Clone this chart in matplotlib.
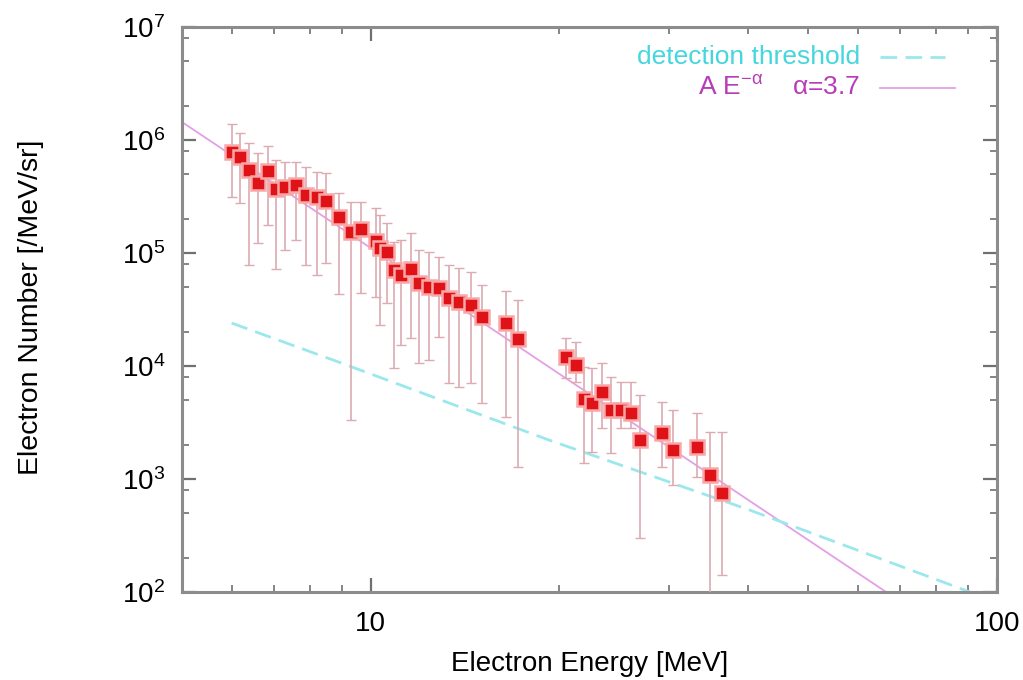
import matplotlib
matplotlib.use("Agg")
import matplotlib.pyplot as plt
from matplotlib.ticker import LogLocator, LogFormatterSciNotation, NullFormatter
import numpy as np

plt.rcParams["font.family"] = ["Liberation Sans", "DejaVu Sans"]
plt.rcParams["mathtext.fontset"] = "custom"
plt.rcParams["mathtext.rm"] = "Liberation Sans"
plt.rcParams["mathtext.it"] = "Liberation Sans"
plt.rcParams["mathtext.default"] = "regular"

# Electron spectrum [MeV, /MeV/sr] with asymmetric error bounds
energy = [6.01, 6.19, 6.40, 6.62, 6.87, 7.07, 7.31, 7.61, 7.90, 8.20, 8.50,
          8.92, 9.32, 9.67, 10.19, 10.37, 10.61, 10.88, 11.17, 11.59, 11.93,
          12.38, 12.85, 13.33, 13.83, 14.45, 15.05, 16.44, 17.19, 20.51,
          21.28, 21.92, 22.57, 23.42, 24.21, 25.12, 26.06, 26.94, 29.22,
          30.42, 33.23, 34.86, 36.44]
counts = [7.83e5, 7.07e5, 5.43e5, 4.16e5, 5.32e5, 3.68e5, 3.84e5, 4.00e5,
          3.26e5, 3.13e5, 2.89e5, 2.08e5, 1.53e5, 1.63e5, 1.28e5, 1.11e5,
          1.02e5, 7.07e4, 6.39e4, 7.22e4, 5.43e4, 5.00e4, 4.90e4, 4.00e4,
          3.68e4, 3.47e4, 2.71e4, 2.40e4, 1.73e4, 1.20e4, 1.02e4, 5.11e3,
          4.71e3, 5.89e3, 4.08e3, 4.08e3, 3.84e3, 2.21e3, 2.55e3, 1.81e3,
          1.92e3, 1.09e3, 7.52e2]
upper = [1.39e6, 1.15e6, 9.41e5, 7.67e5, 8.85e5, 6.65e5, 6.39e5, 6.39e5,
         5.77e5, 5.21e5, 5.11e5, 3.40e5, 2.83e5, 2.83e5, 2.50e5, 2.17e5,
         1.84e5, 1.25e5, 1.30e5, 1.50e5, 1.06e5, 1.02e5, 9.22e4, 7.83e4,
         7.37e4, 6.79e4, 5.21e4, 4.61e4, 3.84e4, 1.77e4, 1.63e4, 9.80e3,
         9.60e3, 1.06e4, 8.00e3, 7.22e3, 7.22e3, 5.54e3, 4.80e3, 4.08e3,
         3.84e3, 2.61e3, 2.61e3]
lower = [3.13e5, 2.77e5, 7.83e4, 1.23e5, 1.77e5, 7.22e4, 1.06e5, 1.30e5,
         7.83e4, 6.39e4, 8.15e4, 4.34e4, 3.33e3, 4.43e4, 4.08e4, 2.31e4,
         3.61e4, 9.60e3, 1.53e4, 1.77e4, 1.06e4, 1.13e4, 1.81e4, 7.07e3,
         6.52e3, 7.07e3, 4.71e3, 3.54e3, 1.28e3, 7.83e3, 7.22e3, 1.39e3,
         1.73e3, 2.83e3, 1.70e3, 2.83e3, 2.83e3, 3.00e2, 1.28e3, 8.85e2,
         1.04e3, 8.0e1, 1.41e2]

# Detection threshold curve
thr_energy = [6.0, 8.99, 19.27, 40.25, 90.5]
thr_counts = [2.4e4, 1.06e4, 2.21e3, 5.32e2, 1.0e2]

# Power-law fit A E^-alpha
fit_norm = 5.56e8
fit_alpha = 3.7
fit_range = [5.0, 100.0]

fig = plt.figure(figsize=(10.23, 6.8), dpi=100)
ax = fig.add_axes([182 / 1023, 88 / 680, 815 / 1023, 565 / 680])
ax.set_xscale("log")
ax.set_yscale("log")
ax.set_xlim(5, 100)
ax.set_ylim(1e2, 1e7)

e_arr = np.array(energy)
c_arr = np.array(counts)
yerr = [c_arr - np.array(lower), np.array(upper) - c_arr]

fit_e = np.array(fit_range)
ax.plot(fit_e, fit_norm * fit_e ** (-fit_alpha), color="#e3a0e6", lw=1.3, zorder=2)
ax.plot(thr_energy, thr_counts, color="#9be8ec", lw=2.0, ls=(0, (6, 3)), zorder=2)

ax.errorbar(e_arr, c_arr, yerr=yerr, fmt="none", ecolor="#dcaab0",
            elinewidth=1.2, capsize=3.5, capthick=1.0, zorder=3)
ax.plot(e_arr, c_arr, ls="none", marker="s", ms=9.5, color="#df1218",
        mec="#f8a8a8", mew=1.8, zorder=4)

# legend drawn as text + short line samples
ax.text(0.832, 0.947, "detection threshold", transform=ax.transAxes,
        ha="right", va="center", fontsize=19, color="#45d6de")
ax.plot([0.856, 0.936], [0.947, 0.947], transform=ax.transAxes,
        color="#9be8ec", lw=2.0, ls=(0, (6, 3)))
ax.text(0.832, 0.892, "A E$^{-α}$    α=3.7", transform=ax.transAxes,
        ha="right", va="center", fontsize=19, color="#b83cb8")
ax.plot([0.856, 0.948], [0.892, 0.892], transform=ax.transAxes,
        color="#e3a0e6", lw=1.3)

for s in ax.spines.values():
    s.set_color("#8c8c8c")
    s.set_linewidth(2.2)

ax.xaxis.set_major_locator(LogLocator(base=10, subs=(1.0,)))
ax.xaxis.set_minor_locator(LogLocator(base=10, subs=np.arange(2, 10)))
ax.xaxis.set_major_formatter(plt.FuncFormatter(lambda v, p: f"{v:g}"))
ax.xaxis.set_minor_formatter(NullFormatter())
ax.yaxis.set_major_locator(LogLocator(base=10, subs=(1.0,)))
ax.yaxis.set_minor_locator(LogLocator(base=10, subs=(2.0, 5.0, 8.0)))
ax.yaxis.set_major_formatter(LogFormatterSciNotation())
ax.yaxis.set_minor_formatter(NullFormatter())

ax.tick_params(which="both", direction="in", top=True, right=True,
               color="#707070", labelsize=20)
ax.tick_params(which="major", length=10, width=1.6)
ax.tick_params(which="minor", length=5, width=1.2)
ax.tick_params(axis="x", which="major", pad=14)
ax.tick_params(axis="y", which="major", pad=12)

ax.set_xlabel("Electron Energy [MeV]", fontsize=20, labelpad=10)
ax.set_ylabel("Electron Number [/MeV/sr]", fontsize=20.5)
ax.yaxis.set_label_coords(-0.169, 0.503)

fig.savefig("out.png", dpi=100)
